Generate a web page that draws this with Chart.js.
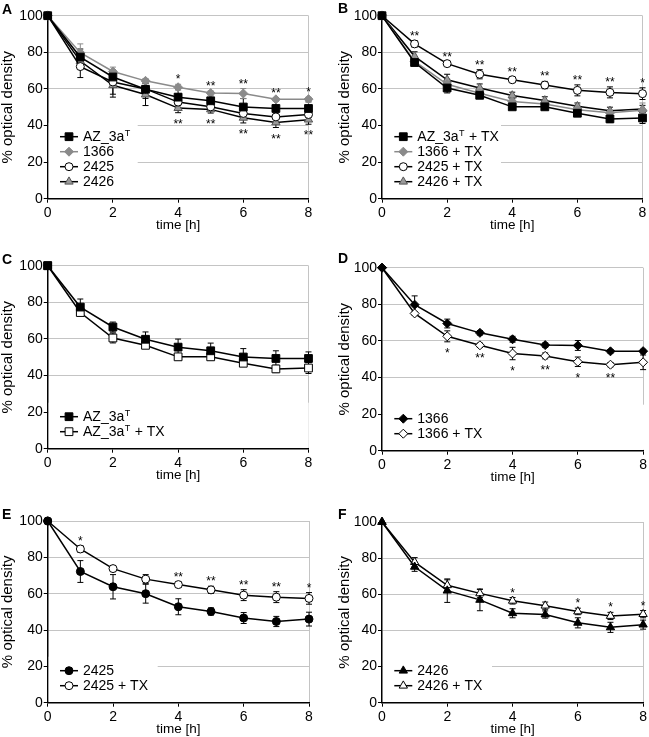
<!DOCTYPE html>
<html>
<head>
<meta charset="utf-8">
<script src="https://cdn.jsdelivr.net/npm/chart.js@4.4.0/dist/chart.umd.min.js"></script>
<style>
  html, body { margin: 0; padding: 0; background: #fff; }
  body { width: 649px; height: 737px; position: relative; overflow: hidden; }
  .panel { position: absolute; }
  .tag { position: absolute; font: bold 14px "Liberation Sans", Arial, sans-serif; line-height: 1; color: #000; }
</style>
</head>
<body>
<script>
// time points and axis ticks
const hours = [0, 1, 2, 3, 4, 5, 6, 7, 8];
const xTicks = [0, 2, 4, 6, 8];
const yTicks = [0, 20, 40, 60, 80, 100];

// % optical density, mean and error for each strain, without / with TX
const az3a      = [100, 77.4, 66.5, 59.8, 55.5, 53.5, 50.1, 49.3, 49.3];
const az3aErr   = [0, 4.4, 2.7, 4.0, 4.4, 4.2, 4.6, 4.2, 3.6];
const az3aTx    = [100, 74.4, 60.5, 56.5, 50.2, 50.2, 46.7, 43.6, 44.1];
const az3aTxErr = [0, 1.5, 2.7, 1.5, 1.2, 1.5, 1.5, 2.0, 3.0];
const s1366     = [100, 79.8, 69.5, 64.4, 60.9, 57.7, 57.5, 54.3, 54.4];
const s1366Err  = [0, 4.8, 2.4, 1.2, 1.6, 1.2, 2.7, 1.0, 1.0];
const s1366Tx   = [100, 75.0, 62.5, 57.6, 53.1, 51.8, 48.6, 47.0, 48.3];
const s1366TxErr = [0, 1.0, 3.0, 1.2, 3.4, 1.6, 2.6, 1.2, 4.0];
const s2425     = [100, 72.2, 63.8, 60.0, 52.8, 50.2, 46.6, 44.7, 46.0];
const s2425Err  = [0, 6.0, 6.7, 5.2, 4.4, 2.0, 3.0, 2.8, 3.8];
const s2425Tx   = [100, 84.6, 73.8, 68.0, 65.0, 62.1, 59.2, 58.1, 57.4];
const s2425TxErr = [0, 1.8, 1.0, 2.5, 1.5, 2.0, 3.0, 3.0, 3.2];
const s2426     = [100, 75.2, 62.0, 56.9, 49.5, 48.8, 44.2, 41.7, 43.2];
const s2426Err  = [0, 2.5, 6.5, 6.0, 2.5, 2.0, 2.8, 2.8, 2.5];
const s2426Tx   = [100, 77.8, 65.0, 60.5, 56.4, 53.7, 50.5, 48.0, 49.0];
const s2426TxErr = [0, 2.5, 3.0, 2.2, 1.8, 2.0, 1.8, 2.0, 2.0];

// significance marks per time point
const starsA_1366 = ['', '', '', '', '*', '**', '**', '**', '*'];
const starsA_2426 = ['', '', '', '', '**', '**', '**', '**', '**'];
const starsB_2425 = ['', '**', '**', '**', '**', '**', '**', '**', '*'];
const starsD_1366 = ['', '', '*', '**', '*', '**', '*', '**', ''];
const starsE_2425 = ['', '*', '', '', '**', '**', '**', '**', '*'];
const starsF_2426 = ['', '', '', '', '*', '', '*', '*', '*'];

const FONT = '"Liberation Sans", Arial, sans-serif';
const GRID = '#c4c4c4';

const looks = {
    blackSquare:   { pointStyle: 'rect', radius: 5.5, fill: '#000', edge: '#000', line: '#000' },
    whiteSquare:   { pointStyle: 'rect', radius: 5.5, fill: '#fff', edge: '#000', line: '#000' },
    grayDiamond:   { pointStyle: 'rectRot', radius: 4.5, fill: '#8a8a8a', edge: '#8a8a8a', line: '#8a8a8a' },
    blackDiamond:  { pointStyle: 'rectRot', radius: 4.5, fill: '#000', edge: '#000', line: '#000' },
    whiteDiamond:  { pointStyle: 'rectRot', radius: 4.5, fill: '#fff', edge: '#000', line: '#000' },
    blackCircle:   { pointStyle: 'circle', radius: 4, fill: '#000', edge: '#000', line: '#000' },
    whiteCircle:   { pointStyle: 'circle', radius: 4, fill: '#fff', edge: '#000', line: '#000' },
    grayTriangle:  { pointStyle: 'triangle', radius: 4.8, fill: '#9a9a9a', edge: '#555', line: '#000' },
    blackTriangle: { pointStyle: 'triangle', radius: 4.8, fill: '#000', edge: '#000', line: '#000' },
    whiteTriangle: { pointStyle: 'triangle', radius: 4.8, fill: '#fff', edge: '#000', line: '#000' }
};

const panels = [
    { tag: 'A', tagPos: [2, 2], box: { left: 0, top: 0, w: 325, h: 233 }, plot: { l: 47.7, t: 15.7, r: 308.5, b: 198.7 },
      legendW: 89,
      series: [['AZ_3aᵀ', az3a, az3aErr, 'blackSquare'], ['1366', s1366, s1366Err, 'grayDiamond'],
               ['2425', s2425, s2425Err, 'whiteCircle'], ['2426', s2426, s2426Err, 'grayTriangle']],
      stars: [[1, 'up', starsA_1366], [3, 'down', starsA_2426]] },
    { tag: 'B', tagPos: [338, 1], box: { left: 337, top: 0, w: 312, h: 233 }, plot: { l: 382, t: 15.7, r: 644, b: 198.7 },
      legendW: 118,
      series: [['AZ_3aᵀ + TX', az3aTx, az3aTxErr, 'blackSquare'], ['1366 + TX', s1366Tx, s1366TxErr, 'grayDiamond'],
               ['2425 + TX', s2425Tx, s2425TxErr, 'whiteCircle'], ['2426 + TX', s2426Tx, s2426TxErr, 'grayTriangle']],
      stars: [[2, 'up', starsB_2425]] },
    { tag: 'C', tagPos: [2, 252], box: { left: 0, top: 250, w: 325, h: 233 }, plot: { l: 47.7, t: 265.7, r: 308.5, b: 448.7 },
      legendW: 260,
      series: [['AZ_3aᵀ', az3a, az3aErr, 'blackSquare'], ['AZ_3aᵀ + TX', az3aTx, az3aTxErr, 'whiteSquare']],
      stars: [] },
    { tag: 'D', tagPos: [338, 251], box: { left: 337, top: 250, w: 312, h: 235 }, plot: { l: 382, t: 267.7, r: 644, b: 450.7 },
      legendW: 261,
      series: [['1366', s1366, s1366Err, 'blackDiamond'], ['1366 + TX', s1366Tx, s1366TxErr, 'whiteDiamond']],
      stars: [[1, 'down', starsD_1366]] },
    { tag: 'E', tagPos: [2, 507], box: { left: 0, top: 490, w: 325, h: 247 }, plot: { l: 47.7, t: 521, r: 309, b: 702.7 },
      legendW: 109,
      series: [['2425', s2425, s2425Err, 'blackCircle'], ['2425 + TX', s2425Tx, s2425TxErr, 'whiteCircle']],
      stars: [[1, 'up', starsE_2425]] },
    { tag: 'F', tagPos: [338, 507], box: { left: 337, top: 490, w: 312, h: 247 }, plot: { l: 382, t: 522, r: 644, b: 702.7 },
      legendW: 109,
      series: [['2426', s2426, s2426Err, 'blackTriangle'], ['2426 + TX', s2426Tx, s2426TxErr, 'whiteTriangle']],
      stars: [[1, 'up', starsF_2426]] }
];

// vertical error bars, drawn under the markers
const errorBars = {
    id: 'errorBars',
    beforeDatasetsDraw(chart) {
        const ctx = chart.ctx, y = chart.scales.y;
        chart.data.datasets.forEach((ds, i) => {
            const meta = chart.getDatasetMeta(i);
            ctx.save();
            ctx.strokeStyle = ds.borderColor;
            ctx.lineWidth = 1;
            meta.data.forEach((pt, j) => {
                const e = ds.errors[j];
                if (!e) return;
                const v = ds.data[j].y;
                const top = y.getPixelForValue(v + e), bot = y.getPixelForValue(v - e);
                ctx.beginPath();
                ctx.moveTo(pt.x, top); ctx.lineTo(pt.x, bot);
                ctx.moveTo(pt.x - 3, top); ctx.lineTo(pt.x + 3, top);
                ctx.moveTo(pt.x - 3, bot); ctx.lineTo(pt.x + 3, bot);
                ctx.stroke();
            });
            ctx.restore();
        });
    }
};

// asterisks above or below a series
const starMarks = {
    id: 'starMarks',
    afterDatasetsDraw(chart, args, opts) {
        const ctx = chart.ctx, y = chart.scales.y;
        ctx.save();
        ctx.font = '12px ' + FONT;
        ctx.fillStyle = '#000';
        ctx.textAlign = 'center';
        ctx.textBaseline = 'alphabetic';
        (opts.list || []).forEach(([idx, side, marks]) => {
            const ds = chart.data.datasets[idx];
            const meta = chart.getDatasetMeta(idx);
            marks.forEach((m, j) => {
                if (!m) return;
                const v = ds.data[j].y, e = ds.errors[j];
                const cy = side === 'up' ? y.getPixelForValue(v + e) - 8 : y.getPixelForValue(v - e) + 8;
                ctx.fillText(m, meta.data[j].x, cy + 7);
            });
        });
        ctx.restore();
    }
};

function drawLabel(ctx, text, x, y) {
    const parts = text.split('ᵀ');
    ctx.font = '14px ' + FONT;
    ctx.fillText(parts[0], x, y);
    if (parts.length > 1) {
        let cx = x + ctx.measureText(parts[0]).width;
        ctx.font = '9px ' + FONT;
        ctx.fillText('T', cx + 0.5, y - 4);
        cx += ctx.measureText('T').width + 1;
        ctx.font = '14px ' + FONT;
        ctx.fillText(parts[1], cx, y);
    }
}

// legend sitting inside the plot, lower left, on a white patch
const innerLegend = {
    id: 'innerLegend',
    beforeDatasetsDraw(chart, args, opts) {
        const a = chart.chartArea, n = chart.data.datasets.length;
        const firstY = a.bottom - 17 - (n - 1) * 15;
        chart.ctx.save();
        chart.ctx.fillStyle = '#fff';
        chart.ctx.fillRect(a.left + 1, firstY - 14, opts.width, a.bottom - 1 - (firstY - 14));
        chart.ctx.restore();
    },
    afterDraw(chart) {
        const ctx = chart.ctx, a = chart.chartArea;
        const n = chart.data.datasets.length;
        chart.data.datasets.forEach((ds, i) => {
            const ry = a.bottom - 17 - (n - 1 - i) * 15;
            const x0 = a.left + 12.3;
            ctx.save();
            ctx.strokeStyle = ds.borderColor;
            ctx.lineWidth = 1.5;
            ctx.beginPath(); ctx.moveTo(x0, ry); ctx.lineTo(x0 + 18, ry); ctx.stroke();
            ctx.fillStyle = ds.pointBackgroundColor;
            ctx.strokeStyle = ds.pointBorderColor;
            ctx.lineWidth = 1;
            Chart.helpers.drawPoint(ctx, { pointStyle: ds.pointStyle, radius: ds.pointRadius, rotation: 0, borderWidth: 1 }, x0 + 9, ry);
            ctx.fillStyle = '#000';
            ctx.textAlign = 'left';
            ctx.textBaseline = 'middle';
            drawLabel(ctx, ds.label, x0 + 23, ry + 0.5);
            ctx.restore();
        });
    }
};

panels.forEach(p => {
    const tag = document.createElement('div');
    tag.className = 'tag';
    tag.style.left = p.tagPos[0] + 'px';
    tag.style.top = p.tagPos[1] + 'px';
    tag.textContent = p.tag;

    const wrap = document.createElement('div');
    wrap.className = 'panel';
    wrap.style.left = p.box.left + 'px';
    wrap.style.top = p.box.top + 'px';
    const cv = document.createElement('canvas');
    cv.width = p.box.w; cv.height = p.box.h;
    cv.style.width = p.box.w + 'px'; cv.style.height = p.box.h + 'px';
    wrap.appendChild(cv);
    document.body.appendChild(wrap);
    document.body.appendChild(tag);

    const datasets = p.series.map(([label, values, errors, look]) => {
        const s = looks[look];
        return {
            label: label,
            data: values.map((v, i) => ({ x: hours[i], y: v })),
            errors: errors,
            borderColor: s.line,
            borderWidth: 1.5,
            pointStyle: s.pointStyle,
            pointRadius: s.radius,
            pointBackgroundColor: s.fill,
            pointBorderColor: s.edge,
            pointBorderWidth: 1,
            tension: 0,
            clip: false
        };
    });

    new Chart(cv, {
        type: 'line',
        data: { datasets: datasets },
        options: {
            responsive: false,
            animation: false,
            devicePixelRatio: 1,
            layout: { padding: { left: 0, top: p.plot.t - p.box.top, right: p.box.left + p.box.w - p.plot.r, bottom: 0 } },
            plugins: {
                legend: { display: false },
                tooltip: { enabled: false },
                innerLegend: { width: p.legendW },
                starMarks: { list: p.stars }
            },
            scales: {
                x: {
                    type: 'linear', min: 0, max: 8,
                    afterBuildTicks: s => { s.ticks = xTicks.map(v => ({ value: v })); },
                    afterFit: s => { s.height = p.box.top + p.box.h - p.plot.b; },
                    grid: { color: c => (c.tick && c.tick.value === 8 ? GRID : 'rgba(0,0,0,0)'), tickColor: '#000', tickLength: 4, lineWidth: 1 },
                    border: { color: '#000', width: 1.5 },
                    ticks: { font: { family: FONT, size: 14, weight: 'normal' }, color: '#000', padding: 2, maxRotation: 0 },
                    title: { display: true, text: 'time [h]', font: { family: FONT, size: 13.5, weight: 'normal' }, color: '#000', padding: 0 }
                },
                y: {
                    min: 0, max: 100,
                    afterBuildTicks: s => { s.ticks = yTicks.map(v => ({ value: v })); },
                    afterFit: s => { s.width = p.plot.l - p.box.left; },
                    grid: { color: c => (c.tick && c.tick.value === 0 ? 'rgba(0,0,0,0)' : GRID), tickColor: '#000', tickLength: 4, lineWidth: 1 },
                    border: { color: '#000', width: 1.5 },
                    ticks: { font: { family: FONT, size: 14, weight: 'normal' }, color: '#000', padding: 1 },
                    title: { display: true, text: '% optical density', font: { family: FONT, size: 15, weight: 'normal', lineHeight: 1 }, color: '#000', padding: 0 }
                }
            }
        },
        plugins: [errorBars, starMarks, innerLegend]
    });
});
</script>
</body>
</html>
